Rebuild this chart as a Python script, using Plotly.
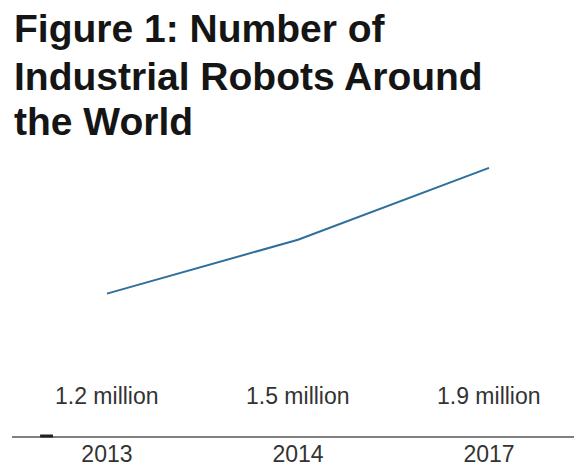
import plotly.graph_objects as go

years = ["2013", "2014", "2017"]
robots_millions = [1.2, 1.5, 1.9]
value_labels = ["1.2 million", "1.5 million", "1.9 million"]
title_lines = ["Figure 1: Number of", "Industrial Robots Around", "the World"]

FONT = "Liberation Sans, Arial"

fig = go.Figure()

fig.add_trace(go.Scatter(x=years, y=robots_millions, mode="lines",
                         line=dict(color="#2f6f9c", width=2), showlegend=False))

for i, lab in enumerate(value_labels):
    fig.add_annotation(x=i, y=0.146, xref="x", yref="paper", text=lab,
                       showarrow=False, yanchor="middle",
                       font=dict(family=FONT, size=23, color="#333333"))

for line, ypos in zip(title_lines, [1.5623, 1.3879, 1.2242]):
    fig.add_annotation(x=0, xref="paper", xanchor="left", y=ypos, yref="paper",
                       yanchor="top", text=line, showarrow=False, align="left",
                       font=dict(family=FONT, size=39, color="#151515", weight="bold"))

fig.add_shape(type="line", xref="paper", yref="paper", x0=0.05, x1=0.073, y0=0, y1=0,
              line=dict(color="#222222", width=3))

fig.update_layout(
    width=574, height=467,
    margin=dict(l=12, r=0, t=160, b=26),
    paper_bgcolor="white", plot_bgcolor="white",
    xaxis=dict(type="category", range=[-0.497, 2.445], showgrid=False, zeroline=False,
               showline=True, linecolor="#808080", linewidth=2, ticks="",
               ticklabelstandoff=-4,
               tickfont=dict(family=FONT, size=23, color="#333333"),
               fixedrange=True),
    yaxis=dict(range=[0.407, 1.944], visible=False, showgrid=False, zeroline=False),
    showlegend=False,
)

fig.write_html("out.html")
